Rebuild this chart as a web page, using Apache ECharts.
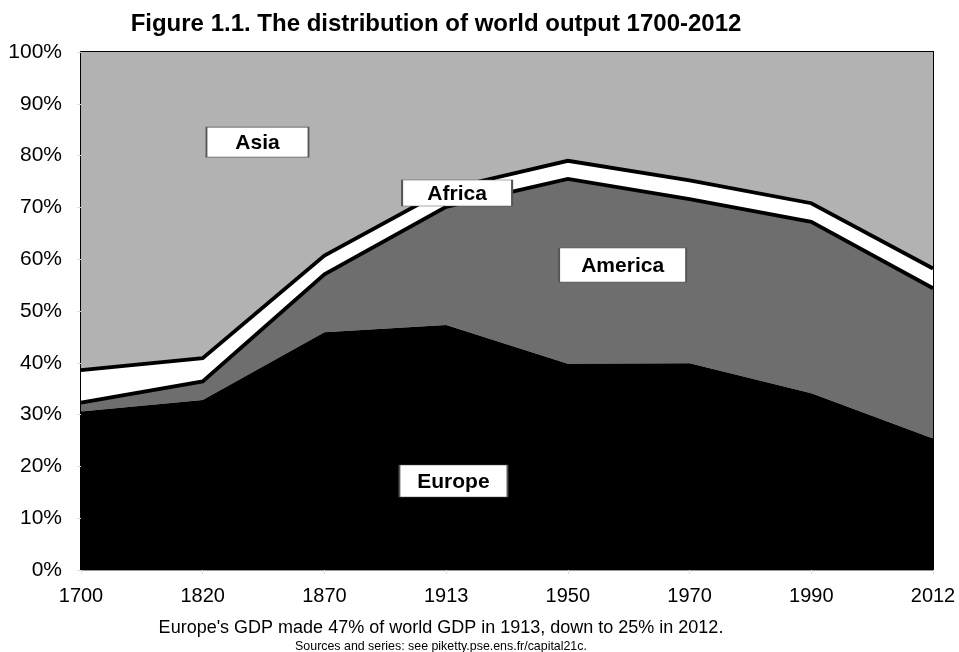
<!DOCTYPE html>
<html>
<head>
<meta charset="utf-8">
<script src="https://cdn.jsdelivr.net/npm/echarts@6/dist/echarts.min.js"></script>
<style>
html,body{margin:0;padding:0;background:#fff;}
#c{width:959px;height:652px;}
</style>
</head>
<body>
<div id="c"></div>
<script>
var years = ['1700', '1820', '1870', '1913', '1950', '1970', '1990', '2012'];
var europe  = [30.6, 32.8, 45.9, 47.3, 39.8, 39.9, 34.1, 25.4];
var america = [1.7, 3.6, 11.2, 22.8, 35.7, 31.7, 33.1, 29.0];
var africa  = [6.3, 4.5, 3.6, 3.4, 3.5, 3.6, 3.6, 3.8];
var asia    = [61.4, 59.1, 39.3, 26.5, 21.0, 24.8, 29.2, 41.8];
var yTicks = [0, 10, 20, 30, 40, 50, 60, 70, 80, 90, 100];

// region name labels: name, position along the year axis (category index), share %
var labelNames = ['Asia', 'Africa', 'America', 'Europe'];
var labelIdx   = [1.45, 3.09, 4.45, 3.06];
var labelPct   = [82.6, 72.8, 58.9, 17.2];
var labelBoxes = [[102, 30], [110, 26], [127, 34], [108, 32]];

var FONT = '"Liberation Sans", Arial, sans-serif';
var chart = echarts.init(document.getElementById('c'));

function areaSeries(name, data, color, lineW, z) {
  return {
    name: name, type: 'line', stack: 'total', data: data,
    symbol: 'none', z: z,
    lineStyle: { color: '#000', width: lineW, join: 'miter' },
    areaStyle: { color: color, opacity: 1 },
    emphasis: { disabled: true },
    animation: false
  };
}

var labelData = labelNames.map(function (n, i) {
  return { name: n, value: [labelIdx[i], labelPct[i]], symbolSize: labelBoxes[i] };
});

chart.setOption({
  animation: false,
  title: [
    { text: 'Figure 1.1. The distribution of world output 1700-2012', left: 431, top: 7, textAlign: 'center',
      textStyle: { fontFamily: FONT, fontSize: 24, fontWeight: 'bold', color: '#000' } },
    { text: "Europe's GDP made 47% of world GDP in 1913, down to 25% in 2012.", left: 436, top: 614, textAlign: 'center',
      textStyle: { fontFamily: FONT, fontSize: 18, fontWeight: 'normal', color: '#000' } },
    { text: 'Sources and series: see piketty.pse.ens.fr/capital21c.', left: 436, top: 636, textAlign: 'center',
      textStyle: { fontFamily: '"Liberation Sans Narrow", "Liberation Sans", Arial, sans-serif', fontSize: 12.4, fontWeight: 'normal', color: '#000' } }
  ],
  grid: { left: 81, right: 26, top: 52, bottom: 82, show: true, borderColor: '#000', borderWidth: 2, backgroundColor: 'transparent' },
  xAxis: [{
    type: 'category', data: years, boundaryGap: false,
    axisLine: { lineStyle: { color: '#999', width: 1 } },
    axisTick: { show: true, alignWithLabel: true, length: 4, lineStyle: { color: '#ddd' } },
    axisLabel: { fontFamily: FONT, fontSize: 20, color: '#000', margin: 16 },
    splitLine: { show: false }
  }, {
    type: 'value', min: 0, max: years.length - 1, show: false
  }],
  yAxis: {
    type: 'value', min: yTicks[0], max: yTicks[yTicks.length - 1], interval: 10,
    axisLine: { show: true, lineStyle: { color: '#444', width: 1 } },
    axisTick: { show: true, length: 4, lineStyle: { color: '#ddd' } },
    axisLabel: { fontFamily: FONT, fontSize: 21, color: '#000', margin: 19, formatter: '{value}%' },
    splitLine: { show: false }
  },
  series: [
    areaSeries('Europe', europe, '#000000', 0, 5),
    areaSeries('America', america, '#6e6e6e', 3.8, 4),
    areaSeries('Africa', africa, '#ffffff', 3.8, 3),
    areaSeries('Asia', asia, '#b2b2b2', 0, 2),
    {
      name: 'labels', type: 'scatter', xAxisIndex: 1, yAxisIndex: 0, z: 20,
      symbol: 'rect', data: labelData, silent: true,
      itemStyle: { color: '#fff', borderColor: '#555', borderWidth: 1, opacity: 1 },
      label: { show: true, position: 'inside', formatter: '{b}', color: '#000',
        fontFamily: FONT, fontSize: 21, fontWeight: 'bold', offset: [0, 1] },
      emphasis: { disabled: true },
      animation: false
    }
  ]
});
</script>
</body>
</html>
